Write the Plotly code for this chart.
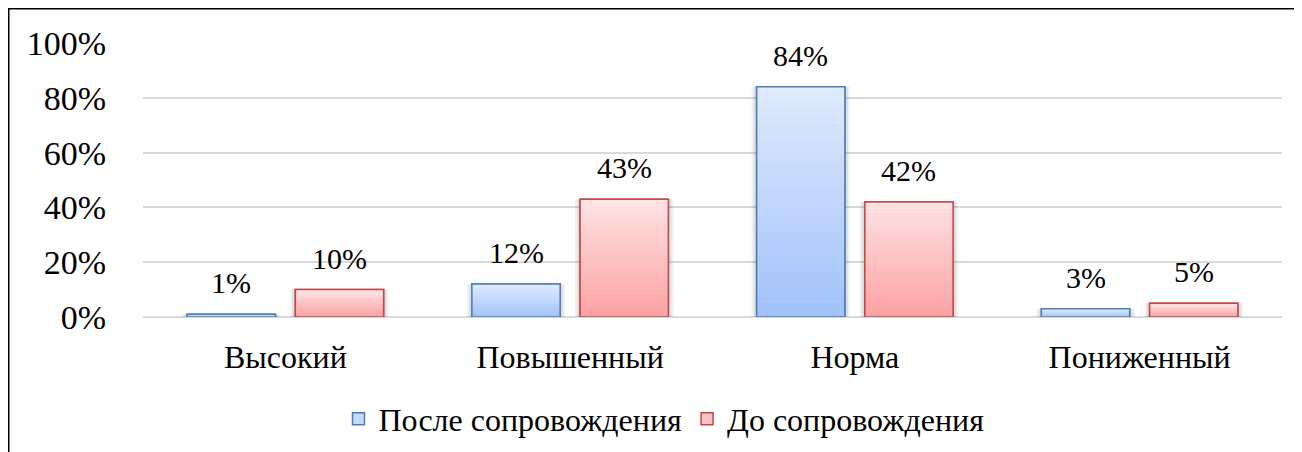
import plotly.graph_objects as go

categories = ["Высокий", "Повышенный", "Норма", "Пониженный"]
after_vals = [0.01, 0.12, 0.84, 0.03]
before_vals = [0.10, 0.43, 0.42, 0.05]
series_names = ["После сопровождения", "До сопровождения"]
y_ticks = [0, 0.2, 0.4, 0.6, 0.8, 1.0]
y_ticktext = ["0%", "20%", "40%", "60%", "80%", "100%"]

FONT = "'Times New Roman', Tinos, 'Liberation Serif', 'DejaVu Serif', serif"
BAR_W = 0.31
CENTERS = [-0.19, 0.19]
N = 30
OFF = 8  # page body margin

styles = [
    dict(top=(224, 235, 253), bottom=(160, 193, 250), line="#4a7ebb", mid="#c4d8fc"),
    dict(top=(254, 228, 230), bottom=(252, 160, 160), line="#be4b48", mid="#fdc4c4"),
]

x_idx = list(range(len(categories)))
fig = go.Figure()

def mix(a, b, t):
    return "rgb(%d,%d,%d)" % tuple(round(a[k] + (b[k] - a[k]) * t) for k in range(3))

for s, (name, vals) in enumerate(zip(series_names, [after_vals, before_vals])):
    st = styles[s]
    off = CENTERS[s] - BAR_W / 2
    for extra, alpha in [(0.036, 0.05), (0.022, 0.07)]:
        fig.add_trace(go.Bar(
            x=x_idx, y=vals, width=BAR_W + extra, offset=off - extra / 2,
            marker=dict(color=f"rgba(0,0,0,{alpha})", line=dict(width=0)),
            showlegend=False, hoverinfo="skip"))
    fig.add_trace(go.Bar(
        x=x_idx, y=vals, width=BAR_W, offset=off, name=name,
        marker=dict(color=st["mid"], line=dict(color=st["line"], width=1.5)),
        showlegend=True))
    for i in range(N):
        t = (i + 0.5) / N
        fig.add_trace(go.Bar(
            x=x_idx, y=[v / N for v in vals], base=[v * i / N for v in vals],
            width=BAR_W, offset=off,
            marker=dict(color=mix(st["bottom"], st["top"], t), line=dict(width=0)),
            showlegend=False, hoverinfo="skip"))
    fig.add_trace(go.Bar(
        x=x_idx, y=vals, width=BAR_W, offset=off,
        marker=dict(color="rgba(0,0,0,0)", line=dict(color=st["line"], width=1.5)),
        showlegend=False, hoverinfo="skip"))
    for xi, v in zip(x_idx, vals):
        fig.add_annotation(x=xi + CENTERS[s], y=v, text=f"{round(v * 100)}%",
                           showarrow=False, yanchor="bottom", yshift=13,
                           font=dict(family=FONT, size=30, color="#000"))

W, H = 1302 - OFF, 452 - OFF
L, T, R, B = 143 - OFF, 43 - OFF, 20, 452 - 317
PW, PH = W - L - R, H - T - B
fig.add_shape(type="rect", xref="paper", yref="paper",
              x0=(0.75 - L) / PW, x1=(W + 10 - L) / PW,
              y0=-(H + 10 - T - PH) / PH, y1=1 + (T - 0.75) / PH,
              line=dict(color="#000", width=1.5), layer="below")

fig.update_layout(
    barmode="overlay",
    width=W, height=H,
    margin=dict(l=L, r=R, t=T, b=B, autoexpand=False),
    paper_bgcolor="white", plot_bgcolor="white",
    font=dict(family=FONT, size=32, color="#000"),
    showlegend=True,
    legend=dict(orientation="h", x=(664 - OFF - L) / PW, xanchor="center",
                y=-(419 - OFF - T - PH) / PH, yanchor="middle",
                font=dict(family=FONT, size=32), itemwidth=30,
                traceorder="normal"),
    xaxis=dict(range=[-0.5, 3.5], tickvals=x_idx, ticktext=categories,
               showgrid=False, zeroline=False, showline=False, ticks="",
               ticklabelstandoff=18, tickfont=dict(family=FONT, size=32)),
    yaxis=dict(range=[0, 1], tickvals=y_ticks, ticktext=y_ticktext,
               showgrid=True, gridcolor="#d9d9d9", gridwidth=1.5,
               zeroline=True, zerolinecolor="#d9d9d9", zerolinewidth=1.5,
               showline=False, ticks="", ticklabelstandoff=36,
               tickfont=dict(family=FONT, size=34)),
)

fig.write_html("out.html")
